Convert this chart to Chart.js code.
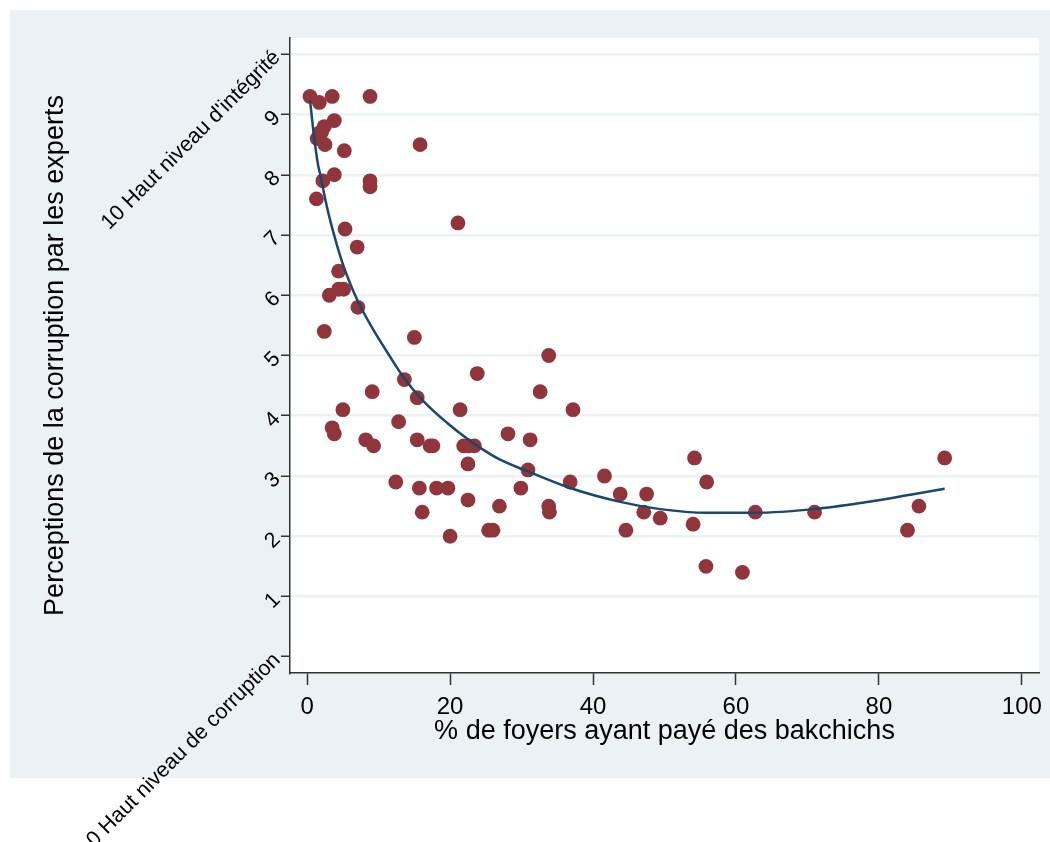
<!DOCTYPE html>
<html><head><meta charset="utf-8">
<script src="https://cdn.jsdelivr.net/npm/chart.js@4"></script>
<style>html,body{margin:0;padding:0;background:#fff}canvas{display:block}</style>
</head><body>
<canvas id="c" width="1050" height="842"></canvas>
<script>
// % of households having paid bribes (x) and expert perception score (y)
const bribeX = [0.4,1.7,3.5,8.8,3.8,2.4,1.8,1.4,2.5,5.2,15.8,3.8,2.2,8.8,8.8,1.3,5.3,21.1,7.0,4.4,
  3.1,4.4,5.1,7.1,2.4,15.0,13.6,15.4,9.1,5.0,21.4,23.8,3.5,3.8,12.8,8.2,9.3,15.4,17.2,17.6,
  21.9,22.6,23.4,22.5,28.1,31.2,30.9,12.4,15.7,18.1,19.7,16.1,20.0,22.5,26.9,25.4,26.0,29.9,33.8,32.6,
  37.2,33.8,33.9,36.8,41.6,43.8,47.5,47.1,49.4,44.6,54.2,55.9,54.0,62.7,55.8,60.9,71.0,85.6,84.0,89.2,2.0];
const expertY = [9.3,9.2,9.3,9.3,8.9,8.8,8.7,8.6,8.5,8.4,8.5,8.0,7.9,7.9,7.8,7.6,7.1,7.2,6.8,6.4,
  6.0,6.1,6.1,5.8,5.4,5.3,4.6,4.3,4.4,4.1,4.1,4.7,3.8,3.7,3.9,3.6,3.5,3.6,3.5,3.5,
  3.5,3.5,3.5,3.2,3.7,3.6,3.1,2.9,2.8,2.8,2.8,2.4,2.0,2.6,2.5,2.1,2.1,2.8,5.0,4.4,
  4.1,2.5,2.4,2.9,3.0,2.7,2.7,2.4,2.3,2.1,3.3,2.9,2.2,2.4,1.5,1.4,2.4,2.5,2.1,3.3,8.7];
// fitted curve
const fitX = [0.4,0.9,1.5,1.8,2.8,3.7,4.9,6.0,7.1,8.8,11.6,13.6,16.3,19.6,22.6,24.2,27.0,30.8,36.8,43.8,49.4,55.9,62.7,71.0,77.9,84.4,89.2];
const fitY = [9.24,8.7,8.18,8.02,7.45,7.03,6.55,6.2,5.9,5.52,4.98,4.62,4.24,3.88,3.6,3.47,3.27,3.08,2.8,2.57,2.45,2.39,2.39,2.45,2.56,2.69,2.79];
const xTicks = [0,20,40,60,80,100];
const yTicks = [0,1,2,3,4,5,6,7,8,9,10];
const yTickLabels = ["0 Haut niveau de corruption","1","2","3","4","5","6","7","8","9","10 Haut niveau d'intégrité"];
const xTitle = "% de foyers ayant payé des bakchichs";
const yTitle = "Perceptions de la corruption par les experts";

const FAM = "'Liberation Sans', Arial, Helvetica, sans-serif";
const PANEL = '#EAF2F3';

const bgPlugin = {
  id: 'bg',
  beforeDraw(chart) {
    const {ctx, chartArea: a} = chart;
    ctx.save();
    ctx.fillStyle = '#fff';
    ctx.fillRect(0, 0, chart.width, chart.height);
    ctx.fillStyle = PANEL;
    ctx.fillRect(10, 10, chart.width - 10, 768);
    ctx.fillStyle = '#fff';
    ctx.fillRect(a.left, a.top, a.right - a.left, a.bottom - a.top);
    ctx.restore();
  }
};

new Chart(document.getElementById('c'), {
  type: 'scatter',
  data: {
    datasets: [
      {
        type: 'line',
        data: fitX.map((x, i) => ({x: x, y: fitY[i]})),
        borderColor: '#1A476F',
        borderWidth: 2.5,
        pointRadius: 0,
        fill: false,
        cubicInterpolationMode: 'monotone'
      },
      {
        type: 'scatter',
        data: bribeX.map((x, i) => ({x: x, y: expertY[i]})),
        backgroundColor: '#90353B',
        borderColor: '#90353B',
        borderWidth: 0,
        pointRadius: 7.4,
        pointHoverRadius: 7.4
      }
    ]
  },
  options: {
    responsive: false,
    animation: false,
    devicePixelRatio: 1,
    layout: {padding: {top: 38, right: 11, left: 0, bottom: 0}},
    plugins: {legend: {display: false}, tooltip: {enabled: false}},
    scales: {
      x: {
        type: 'linear', min: -2.4, max: 102.4,
        afterBuildTicks: s => { s.ticks = xTicks.map(v => ({value: v})); },
        afterFit: s => { s.height = 169; s.paddingLeft = 0; s.paddingRight = 0; },
        grid: {drawOnChartArea: false, drawTicks: true, tickLength: 12, tickColor: '#333', tickWidth: 1.5},
        border: {display: true, color: '#333', width: 1.5},
        ticks: {color: '#000', font: {family: FAM, size: 24}, padding: 8, minRotation: 0, maxRotation: 0, autoSkip: false},
        title: {display: true, text: xTitle, color: '#000', font: {family: FAM, size: 27}, padding: {top: 0, bottom: 94}}
      },
      y: {
        type: 'linear', min: -0.27, max: 10.27,
        afterBuildTicks: s => { s.ticks = yTicks.map(v => ({value: v})); },
        afterFit: s => { s.width = 290; s.paddingTop = 0; s.paddingBottom = 0; },
        grid: {
          color: ctx => (ctx.tick && ctx.tick.value === 0) ? 'rgba(0,0,0,0)' : PANEL,
          lineWidth: 2.5, drawTicks: true, tickLength: 9, tickColor: '#333', tickWidth: 1.5
        },
        border: {display: true, color: '#333', width: 1.5},
        ticks: {
          color: '#000', font: {family: FAM, size: 21.5}, padding: 4,
          minRotation: 45, maxRotation: 45, autoSkip: false,
          callback: v => yTickLabels[yTicks.indexOf(v)]
        },
        title: {display: true, text: yTitle, color: '#000', font: {family: FAM, size: 27}, padding: {top: 39, bottom: 0}}
      }
    }
  },
  plugins: [bgPlugin]
});
</script>
</body></html>
